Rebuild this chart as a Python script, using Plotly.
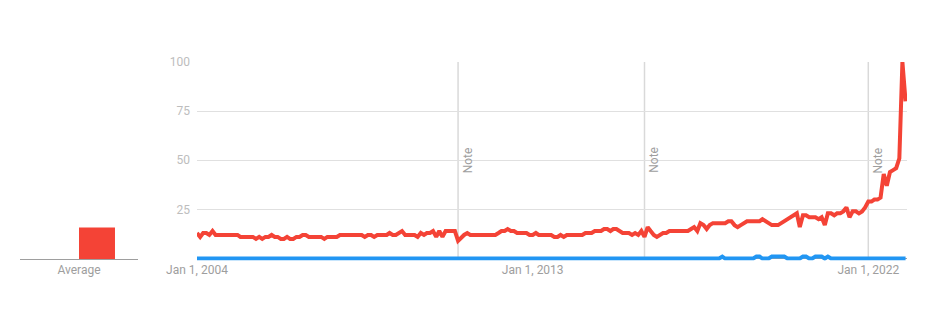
import plotly.graph_objects as go
import pandas as pd

W, H = 936, 328

# ---- data ----
months = pd.date_range("2004-01-01", "2023-01-01", freq="MS")

red_values = [
    13, 11, 13, 13, 12, 14, 12, 12, 12, 12, 12, 12,   # 2004
    12, 12, 11, 11, 11, 11, 11, 10, 11, 10, 11, 11,   # 2005
    12, 11, 11, 10, 10, 11, 10, 10, 11, 11, 12, 12,   # 2006
    11, 11, 11, 11, 11, 10, 11, 11, 11, 11, 12, 12,   # 2007
    12, 12, 12, 12, 12, 12, 11, 12, 12, 11, 12, 12,   # 2008
    12, 12, 13, 12, 12, 13, 14, 12, 12, 12, 12, 11,   # 2009
    13, 12, 13, 13, 14, 11, 14, 11, 14, 14, 14, 14,   # 2010
    9, 11, 12, 13, 12, 12, 12, 12, 12, 12, 12, 12,    # 2011
    12, 13, 14, 14, 15, 14, 14, 13, 13, 13, 13, 12,   # 2012
    12, 13, 12, 12, 12, 12, 12, 11, 11, 12, 11, 12,   # 2013
    12, 12, 12, 12, 12, 13, 13, 13, 14, 14, 14, 15,   # 2014
    15, 14, 15, 15, 14, 13, 13, 13, 12, 13, 12, 14,   # 2015
    11, 16, 14, 12, 11, 12, 13, 13, 14, 14, 14, 14,   # 2016
    14, 14, 14, 15, 16, 14, 18, 17, 15, 17, 18, 18,   # 2017
    18, 18, 18, 19, 19, 17, 16, 17, 18, 19, 19, 19,   # 2018
    19, 19, 20, 19, 18, 17, 17, 17, 18, 19, 20, 21,   # 2019
    22, 23, 16, 22, 22, 21, 21, 21, 20, 21, 17, 23,   # 2020
    23, 22, 23, 23, 24, 26, 21, 24, 24, 23, 24, 26,   # 2021
    29, 29, 30, 30, 31, 43, 37, 44, 45, 46, 51, 100,  # 2022
    80,                                               # 2023
]

blue_values = [0] * 12 * 14 + [
    0, 1, 0, 0, 0, 0, 0, 0, 0, 0, 0, 0,   # 2018
    1, 1, 0, 0, 0, 1, 1, 1, 1, 1, 0, 0,   # 2019
    0, 0, 0, 1, 1, 0, 0, 1, 1, 1, 0, 1,   # 2020
    0, 0, 0, 0, 0, 0, 0, 0, 0, 0, 0, 0,   # 2021
    0, 0, 0, 0, 0, 0, 0, 0, 0, 0, 0, 0,   # 2022
    0,                                    # 2023
]

avg_category = ["Average"]
avg_blue = [0]
avg_red = [16]

note_dates = ["2011-01-01", "2016-01-01", "2022-01-01"]
xtick_dates = ["2004-01-01", "2013-01-01", "2022-01-01"]
xtick_labels = ["Jan 1, 2004", "Jan 1, 2013", "Jan 1, 2022"]
ytick_vals = [25, 50, 75, 100]

RED = "#f44336"
BLUE = "#2196f3"
FONT = "Roboto"

def fx(px):
    return px / W

def fy(py):
    return 1 - py / H

fig = go.Figure()

# left "Average" bars
fig.add_trace(go.Bar(x=avg_category, y=avg_blue, marker_color=BLUE,
                     xaxis="x", yaxis="y", hoverinfo="skip"))
fig.add_trace(go.Bar(x=avg_category, y=avg_red, marker_color=RED,
                     xaxis="x", yaxis="y", hoverinfo="skip"))

# main lines
fig.add_trace(go.Scatter(x=months, y=blue_values, mode="lines",
                         line=dict(color=BLUE, width=4),
                         xaxis="x2", yaxis="y2"))
fig.add_trace(go.Scatter(x=months, y=red_values, mode="lines",
                         line=dict(color=RED, width=4),
                         xaxis="x2", yaxis="y2"))

shapes = []
annotations = []
for d in note_dates:
    shapes.append(dict(type="line", xref="x2", yref="y2", x0=d, x1=d, y0=0, y1=100,
                       line=dict(color="#d9d9d9", width=1.5), layer="below"))
    annotations.append(dict(x=d, y=50, xref="x2", yref="y2", text="Note",
                            textangle=-90, showarrow=False, xanchor="left",
                            yanchor="middle", xshift=1,
                            font=dict(family=FONT, size=12, color="#9e9e9e")))

fig.update_layout(
    template="none",
    width=W, height=H,
    margin=dict(l=0, r=0, t=0, b=0, autoexpand=False),
    paper_bgcolor="white", plot_bgcolor="white",
    showlegend=False,
    barmode="group", bargap=0.39, bargroupgap=0,
    font=dict(family=FONT),
    xaxis=dict(domain=[fx(20), fx(138)], type="category", range=[-0.5, 0.5],
               automargin=False,
               showline=True, linecolor="#9e9e9e", linewidth=1,
               showgrid=False, zeroline=False, ticks="", fixedrange=True,
               tickfont=dict(family=FONT, size=12, color="#9e9e9e")),
    yaxis=dict(domain=[fy(259), fy(62)], range=[0, 100], visible=False,
               automargin=False, anchor="x"),
    xaxis2=dict(domain=[fx(197), fx(907)], type="date",
                range=["2004-01-01", "2023-01-15"], anchor="y2",
                automargin=False,
                tickvals=xtick_dates, ticktext=xtick_labels,
                showgrid=False, zeroline=False, showline=False, ticks="",
                tickfont=dict(family=FONT, size=12, color="#9e9e9e")),
    yaxis2=dict(domain=[fy(260.5), fy(62)], range=[-1, 100], anchor="x2",
                automargin=False,
                tickvals=ytick_vals, showgrid=True, gridcolor="#e0e0e0",
                gridwidth=1, zeroline=True, zerolinecolor="#9e9e9e",
                zerolinewidth=1, showline=False, ticks="",
                ticklabelstandoff=6,
                tickfont=dict(family=FONT, size=12, color="#bdbdbd")),
    shapes=shapes,
    annotations=annotations,
)

fig.write_html("out.html")
